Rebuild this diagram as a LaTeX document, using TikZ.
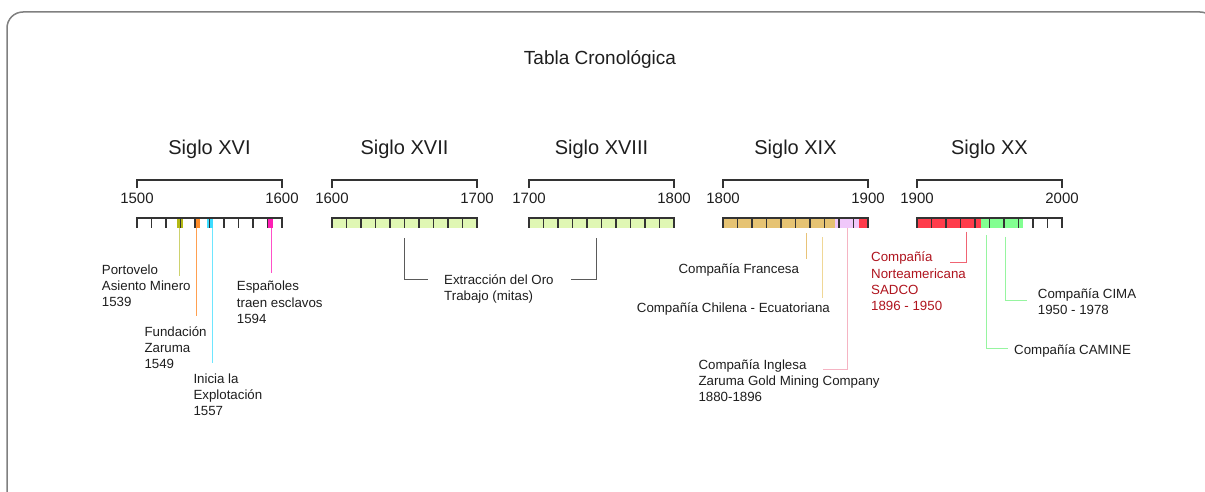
\documentclass[tikz,border=0pt]{standalone}
\usepackage{fontspec}
\setmainfont{Liberation Sans}
\usetikzlibrary{positioning}
\definecolor{framegray}{RGB}{128,128,128}
\definecolor{tickgray}{RGB}{51,51,51}
\definecolor{textgray}{RGB}{30,30,30}
\definecolor{leadgray}{RGB}{90,90,90}
\definecolor{olivefill}{RGB}{180,185,20}
\definecolor{olivelead}{RGB}{205,210,110}
\definecolor{orangefill}{RGB}{255,140,40}
\definecolor{orangelead}{RGB}{255,160,80}
\definecolor{cyanfill}{RGB}{60,220,255}
\definecolor{cyanlead}{RGB}{110,230,255}
\definecolor{magentafill}{RGB}{255,30,180}
\definecolor{magentalead}{RGB}{255,80,200}
\definecolor{mitagreen}{RGB}{224,247,180}
\definecolor{tanfill}{RGB}{230,195,115}
\definecolor{lilacfill}{RGB}{240,200,250}
\definecolor{redfill}{RGB}{255,60,75}
\definecolor{greenfill}{RGB}{130,255,145}
\definecolor{francesalead}{RGB}{232,195,120}
\definecolor{chilenalead}{RGB}{240,215,150}
\definecolor{inglesalead}{RGB}{245,180,195}
\definecolor{sadcolead}{RGB}{240,100,115}
\definecolor{greenlead}{RGB}{150,245,160}
\definecolor{sadcored}{RGB}{175,20,30}

\begin{document}
\begin{tikzpicture}[x=1pt, y=-1pt,
    lbl/.style={font=\fontsize{13.3}{16.3}\selectfont, text=textgray, align=left, anchor=base west, inner sep=0pt},
    yearlbl/.style={font=\fontsize{15}{18}\selectfont, text=textgray, anchor=base, inner sep=0pt},
    siglo/.style={font=\fontsize{20}{24}\selectfont, text=textgray, anchor=base, inner sep=0pt},
    lead/.style={line width=1pt},
    tick/.style={draw=tickgray, line width=1.2pt}
  ]
  \useasboundingbox (0,0) rectangle (1205,492);
  \begin{scope}
    \clip (0,0) rectangle (1205,492);
    \draw[framegray, line width=1.5pt, rounded corners=16pt] (7,12) rectangle (1216,520);
  \end{scope}

  \node[siglo, font=\fontsize{19}{23}\selectfont] (title) at (600,64.5) {Tabla Cronológica};

  % siglos, llaves y años
  \foreach \x/\name/\ya/\yb [count=\i] in {137/XVI/1500/1600, 332/XVII/1600/1700, 529/XVIII/1700/1800, 723/XIX/1800/1900, 917/XX/1900/2000} {
    \node[siglo] (siglo\i) at (\x+72.5,155) {Siglo \name};
    \draw[tick] (\x,188) -- (\x,180) -- (\x+145,180) -- (\x+145,188);
    \node[yearlbl] (ya\i) at (\x,203.5) {\ya};
    \node[yearlbl] (yb\i) at (\x+145,203.5) {\yb};
  }

  % periodos coloreados
  \fill[olivefill] (177.3,218) rectangle (183.3,227.5);
  \fill[orangefill] (194.3,218) rectangle (200,227.5);
  \fill[cyanfill] (207.3,218) rectangle (213.3,227.5);
  \fill[magentafill] (267.3,218) rectangle (273.3,227.5);
  \fill[mitagreen] (332,218) rectangle (477,227.5);
  \fill[mitagreen] (529,218) rectangle (674,227.5);
  \fill[tanfill] (723,218) rectangle (835,227.5);
  \fill[lilacfill] (835,218) rectangle (859,227.5);
  \fill[redfill] (859,218) rectangle (868,227.5);
  \fill[redfill] (917,218) rectangle (981,227.5);
  \fill[greenfill] (981,218) rectangle (1023,227.5);

  % reglas de decadas
  \foreach \x in {137,332,529,723,917} {
    \draw[tick] (\x,227.5) -- (\x,218) -- (\x+145,218) -- (\x+145,227.5);
    \foreach \k in {1,...,9}
      \draw[tick] (\x+14.5*\k,218) -- (\x+14.5*\k,227.5);
  }

  % Siglo XVI (base = ultima linea)
  \node[lbl] (portovelo) at (101.7,306.6) {Portovelo\\Asiento Minero\\1539};
  \node[lbl] (fundacion) at (144.3,368.6) {Fundación\\Zaruma\\1549};
  \node[lbl] (inicia) at (193.3,415.9) {Inicia la\\Explotación\\1557};
  \node[lbl] (esclavos) at (236.7,323.3) {Españoles\\traen esclavos\\1594};
  \coordinate (olive bar) at (179.3,228);
  \coordinate (orange bar) at (196.7,228);
  \coordinate (cyan bar) at (212,228);
  \coordinate (magenta bar) at (271.7,228);
  \draw[lead, olivelead] (olive bar) -- ++(0,48);
  \draw[lead, orangelead] (orange bar) -- ++(0,88);
  \draw[lead, cyanlead] (cyan bar) -- ++(0,135);
  \draw[lead, magentalead] (magenta bar) -- ++(0,45);

  % Siglos XVII y XVIII
  \node[lbl] (mitas) at (444,300.8) {Extracción del Oro\\Trabajo (mitas)};
  \coordinate (mitas a) at (404,238);
  \coordinate (mitas b) at (596,238);
  \draw[lead, leadgray] (mitas a) -- ++(0,41) -- ++(24,0);
  \draw[lead, leadgray] (mitas b) -- ++(0,41) -- ++(-25,0);

  % Siglo XIX
  \node[lbl] (francesa) at (678.3,273.3) {Compañía Francesa};
  \node[lbl] (chilena) at (636.7,312.7) {Compañía Chilena - Ecuatoriana};
  \node[lbl] (inglesa) at (698.3,401.6) {Compañía Inglesa\\Zaruma Gold Mining Company\\1880-1896};
  \coordinate (francesa bar) at (806.7,233);
  \coordinate (chilena bar) at (822.7,237);
  \coordinate (inglesa bar) at (847.7,228);
  \draw[lead, francesalead] (francesa bar) -- ++(0,26);
  \draw[lead, chilenalead] (chilena bar) -- ++(0,61);
  \draw[lead, inglesalead] (inglesa bar) -- ++(0,141) -- ++(-24.4,0);

  % Siglo XX
  \node[lbl, text=sadcored] (sadco) at (871,310.6) {Compañía\\Norteamericana\\SADCO\\1896 - 1950};
  \node[lbl] (cima) at (1037.7,314.6) {Compañía CIMA\\1950 - 1978};
  \node[lbl] (camine) at (1014,354) {Compañía CAMINE};
  \coordinate (sadco bar) at (966.7,231.7);
  \coordinate (camine bar) at (986.7,235);
  \coordinate (cima bar) at (1005.7,236.7);
  \draw[lead, sadcolead] (sadco bar) -- ++(0,31) -- ++(-16.7,0);
  \draw[lead, greenlead] (camine bar) -- ++(0,113.3) -- ++(21.6,0);
  \draw[lead, greenlead] (cima bar) -- ++(0,64) -- ++(21,0);
\end{tikzpicture}
\end{document}
